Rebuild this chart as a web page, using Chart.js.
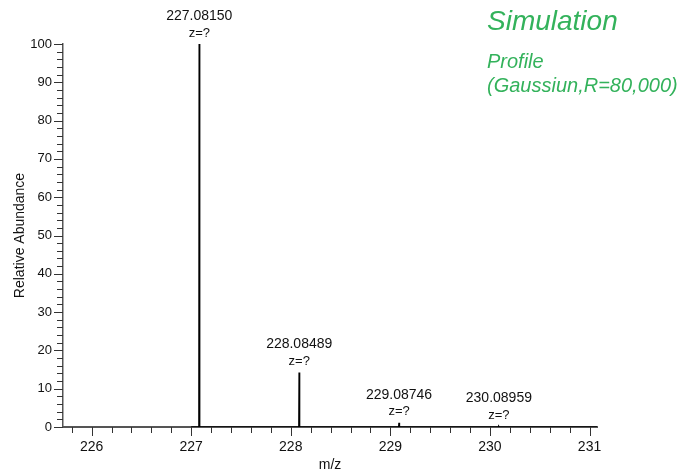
<!DOCTYPE html>
<html>
<head>
<meta charset="utf-8">
<script src="https://cdn.jsdelivr.net/npm/chart.js@4/dist/chart.umd.min.js"></script>
<style>
  html, body { margin: 0; padding: 0; background: #fff; }
  #wrap { width: 692px; height: 472px; }
</style>
</head>
<body>
<div id="wrap"><canvas id="espectro" width="692" height="472"></canvas></div>
<script>
const peakMz = [227.08150, 228.08489, 229.08746, 230.08959];
const peakAbundance = [100, 14.2, 1.1, 0.1];
const peakCharge = ['z=?', 'z=?', 'z=?', 'z=?'];

// Perfil (picos muy estrechos, R=80,000) sobre la linea base
const profileMz = [227.000, 227.0785, 227.0815, 227.0845, 228.0819, 228.08489, 228.0879,
                   229.0845, 229.08746, 229.0905, 230.0866, 230.08959, 230.0926, 231.075];
const profileAbundance = [0, 0, 100, 0, 0, 14.2, 0, 0, 1.1, 0, 0, 0.1, 0, 0];

// Ejes
const xMin = 225.713, xMax = 231.075;
const xMajorTicks = [226, 227, 228, 229, 230, 231];
const yMajorTicks = [0, 10, 20, 30, 40, 50, 60, 70, 80, 90, 100];

// Textos de la esquina
const simTitle = 'Simulation';
const simNotes = ['Profile', '(Gaussiun,R=80,000)'];

const FONT = "'Liberation Sans', Arial, sans-serif";
const GREEN = '#33b25b';

// Ticks menores: cada 0.2 en x, cada 2 en y
const xMinorTicks = [];
for (let v = 225.8; v < xMax; v += 0.2) {
    const r = Math.round(v * 10) / 10;
    if (!xMajorTicks.includes(r)) xMinorTicks.push(r);
}
const yMinorTicks = [];
for (let v = 2; v < 100; v += 2) {
    if (v % 10 !== 0) yMinorTicks.push(v);
}

const ejesYEtiquetas = {
    id: 'ejesYEtiquetas',
    afterDraw(chart) {
        const ctx = chart.ctx;
        const xs = chart.scales.x, ys = chart.scales.y;
        const area = chart.chartArea;
        ctx.save();
        ctx.strokeStyle = '#333';
        ctx.lineWidth = 1;
        ctx.beginPath();
        // ticks del eje x
        xMajorTicks.forEach(v => {
            const px = Math.round(xs.getPixelForValue(v)) + 0.5;
            ctx.moveTo(px, area.bottom); ctx.lineTo(px, area.bottom + 9);
        });
        xMinorTicks.forEach(v => {
            const px = Math.round(xs.getPixelForValue(v)) + 0.5;
            ctx.moveTo(px, area.bottom); ctx.lineTo(px, area.bottom + 6);
        });
        // ticks del eje y
        yMajorTicks.forEach(v => {
            const py = Math.round(ys.getPixelForValue(v)) + 0.5;
            ctx.moveTo(area.left, py); ctx.lineTo(area.left - 9, py);
        });
        yMinorTicks.forEach(v => {
            const py = Math.round(ys.getPixelForValue(v)) + 0.5;
            ctx.moveTo(area.left, py); ctx.lineTo(area.left - 6, py);
        });
        ctx.stroke();

        // etiquetas de los picos
        ctx.fillStyle = '#111';
        ctx.textAlign = 'center';
        ctx.textBaseline = 'middle';
        peakMz.forEach((mz, i) => {
            const px = xs.getPixelForValue(mz);
            const py = ys.getPixelForValue(peakAbundance[i]);
            ctx.font = '14px ' + FONT;
            ctx.fillText(mz.toFixed(5), px, py - 28);
            ctx.font = '13px ' + FONT;
            ctx.fillText(peakCharge[i], px, py - 11);
        });

        // texto verde de la simulacion
        ctx.fillStyle = GREEN;
        ctx.textAlign = 'left';
        ctx.textBaseline = 'alphabetic';
        ctx.font = 'italic 28px ' + FONT;
        ctx.fillText(simTitle, 487, 30);
        ctx.font = 'italic 20px ' + FONT;
        ctx.fillText(simNotes[0], 487, 68);
        ctx.fillText(simNotes[1], 487, 92);
        ctx.restore();
    }
};

new Chart(document.getElementById('espectro'), {
    type: 'line',
    data: {
        datasets: [{
            label: 'Profile',
            data: profileMz.map((mz, i) => ({ x: mz, y: profileAbundance[i] })),
            borderColor: '#000',
            borderWidth: 1.6,
            pointRadius: 0,
            fill: false,
            tension: 0
        }]
    },
    options: {
        responsive: false,
        animation: false,
        layout: { padding: { top: 44, right: 95, bottom: 0, left: 0 } },
        plugins: {
            legend: { display: false },
            tooltip: { enabled: false }
        },
        scales: {
            x: {
                type: 'linear',
                min: xMin,
                max: xMax,
                afterFit: s => { s.height = 45; },
                afterBuildTicks: s => { s.ticks = xMajorTicks.map(v => ({ value: v })); },
                ticks: {
                    autoSkip: false,
                    maxRotation: 0,
                    padding: 12,
                    color: '#111',
                    font: { family: FONT, size: 14 },
                    callback: v => String(v)
                },
                grid: { display: false, drawTicks: false },
                border: { display: true, color: '#555', width: 2 },
                title: {
                    display: true,
                    text: 'm/z',
                    color: '#111',
                    font: { family: FONT, size: 14, lineHeight: 1 },
                    padding: { top: 0, bottom: 0 }
                }
            },
            y: {
                min: 0,
                max: 100,
                afterFit: s => { s.width = 63; },
                afterBuildTicks: s => { s.ticks = yMajorTicks.map(v => ({ value: v })); },
                ticks: {
                    padding: 11,
                    color: '#111',
                    font: { family: FONT, size: 13 }
                },
                grid: { display: false, drawTicks: false },
                border: { display: true, color: '#555', width: 1.5 },
                title: {
                    display: true,
                    text: 'Relative Abundance',
                    color: '#111',
                    font: { family: FONT, size: 14, lineHeight: 1 },
                    padding: { top: 13, bottom: 0 }
                }
            }
        }
    },
    plugins: [ejesYEtiquetas]
});
</script>
</body>
</html>
